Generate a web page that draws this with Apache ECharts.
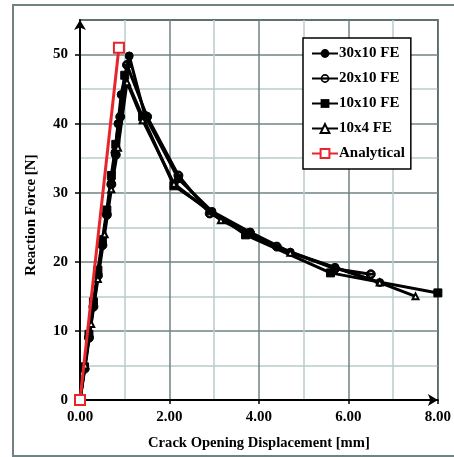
<!DOCTYPE html>
<html><head><meta charset="utf-8">
<script src="https://cdn.jsdelivr.net/npm/echarts@6/dist/echarts.min.js"></script>
<style>html,body{margin:0;padding:0;background:#fff}#c{width:454px;height:457px}</style>
</head><body><div id="c"></div>
<script>
// Data
const fe30x10 = [[0,0],[0.1,4.6],[0.2,9.2],[0.3,13.8],[0.4,18.2],[0.5,22.6],[0.6,27.0],[0.7,31.4],[0.78,35.8],[0.85,40.0],[0.92,44.2],[1.1,49.8],[1.45,41.2],[2.2,32.0],[2.95,27.3],[3.8,24.3],[4.7,21.4],[5.7,19.2],[6.7,17.0]];
const fe20x10 = [[0,0],[0.1,4.5],[0.2,9.0],[0.3,13.5],[0.4,18.0],[0.5,22.4],[0.6,26.8],[0.7,31.2],[0.8,35.5],[0.9,41.0],[1.05,48.5],[1.5,41.0],[2.2,32.5],[2.9,27.0],[3.8,24.2],[4.4,22.2],[5.7,19.0],[6.5,18.2]];
const fe10x10 = [[0,0],[0.1,4.8],[0.2,9.5],[0.3,14.2],[0.4,18.8],[0.5,23.2],[0.6,27.5],[0.7,32.5],[0.8,37.0],[1.0,47.0],[1.4,41.0],[2.1,31.0],[3.7,23.9],[5.6,18.4],[8.0,15.5]];
const fe10x4 = [[0,0],[0.12,5.0],[0.25,11.0],[0.4,17.5],[0.55,24.0],[0.7,30.5],[0.85,36.5],[1.05,46.0],[1.4,40.5],[2.1,31.3],[3.15,26.0],[4.7,21.3],[6.7,17.0],[7.5,15.0]];
const analytical = [[0,0],[0.87,51.0]];
const seriesNames = ['30x10 FE','20x10 FE','10x10 FE','10x4 FE','Analytical'];
const xTicks = {min:0, max:8, interval:2};
const yTicks = {min:0, max:55, interval:10};

const FONT = '"Liberation Serif","Times New Roman",serif';
const MAJOR = '#6f8383';
const MINOR = '#b9cbcb';
const RED = '#e8252b';
const RING_BAR = 'path://M0,5 A5,5 0 1,1 10,5 A5,5 0 1,1 0,5 Z M1.9,5 A3.1,3.1 0 1,0 8.1,5 A3.1,3.1 0 1,0 1.9,5 Z M1.9,4.2 L8.1,4.2 L8.1,5.8 L1.9,5.8 Z';
const chart = echarts.init(document.getElementById('c'), null, {renderer:'canvas'});

function feSeries(name, data, symbol, extra) {
  return Object.assign({
    name, type:'line', data, symbol, symbolSize:8,
    lineStyle:{color:'#000', width:3},
    itemStyle:{color:'#000', borderColor:'#000'},
    z:3
  }, extra || {});
}

chart.setOption({
  animation:false,
  backgroundColor:'#fff',
  graphic:[{type:'rect', shape:{x:13,y:5,width:450,height:451}, style:{fill:'none', stroke:MAJOR, lineWidth:2}, silent:true, z:-1}],
  grid:{left:80, right:11, top:20, bottom:57, show:true, borderColor:'#000', borderWidth:1.5},
  legend:{
    orient:'vertical', left:303, top:38, width:110,
    padding:[8,6,8,8], itemGap:10, itemWidth:26, itemHeight:11,
    borderColor:'#000', borderWidth:1.5, backgroundColor:'#fff',
    data:seriesNames,
    textStyle:{fontFamily:FONT, fontWeight:'bold', fontSize:15, color:'#000', padding:[0,0,0,-4]}
  },
  xAxis:{
    type:'value', min:xTicks.min, max:xTicks.max, interval:xTicks.interval,
    name:'Crack Opening Displacement [mm]', nameLocation:'middle', nameGap:36,
    nameTextStyle:{fontFamily:FONT, fontWeight:'bold', fontSize:14.6, color:'#000'},
    axisLine:{show:true, lineStyle:{color:'#000', width:2}, symbol:['none','arrow'], symbolSize:[9,10]},
    axisTick:{show:true, inside:false, length:4, lineStyle:{color:'#000', width:1.5}},
    axisLabel:{fontFamily:FONT, fontWeight:'bold', fontSize:15, color:'#000', margin:10, formatter:v=>v.toFixed(2)},
    splitLine:{show:true, lineStyle:{color:MAJOR, width:1.5}},
    minorTick:{show:false, splitNumber:2},
    minorSplitLine:{show:true, lineStyle:{color:MINOR, width:1.5}}
  },
  yAxis:{
    type:'value', min:yTicks.min, max:yTicks.max, interval:yTicks.interval,
    name:'Reaction Force [N]', nameLocation:'middle', nameGap:41, nameRotate:90,
    nameTextStyle:{fontFamily:FONT, fontWeight:'bold', fontSize:15, color:'#000', padding:[0,0,0,-10]},
    axisLine:{show:true, lineStyle:{color:'#000', width:2}, symbol:['none','arrow'], symbolSize:[9,10]},
    axisTick:{show:true, inside:false, length:5, lineStyle:{color:'#000', width:1.5}},
    axisLabel:{fontFamily:FONT, fontWeight:'bold', fontSize:15, color:'#000', margin:12, showMaxLabel:false},
    splitLine:{show:true, lineStyle:{color:MAJOR, width:1.5}},
    minorTick:{show:false, splitNumber:2},
    minorSplitLine:{show:true, lineStyle:{color:MINOR, width:1.5}}
  },
  series:[
    feSeries(seriesNames[0], fe30x10, 'circle'),
    feSeries(seriesNames[1], fe20x10, RING_BAR, {symbolSize:9}),
    feSeries(seriesNames[2], fe10x10, 'rect'),
    feSeries(seriesNames[3], fe10x4, 'emptyTriangle', {symbolSize:6, itemStyle:{color:'#000', borderColor:'#000', borderWidth:1.5}}),
    {name:seriesNames[4], type:'line', data:analytical, symbol:'emptyRect', symbolSize:10,
     lineStyle:{color:RED, width:3}, itemStyle:{color:RED, borderColor:RED, borderWidth:2}, z:4}
  ]
});
</script></body></html>
